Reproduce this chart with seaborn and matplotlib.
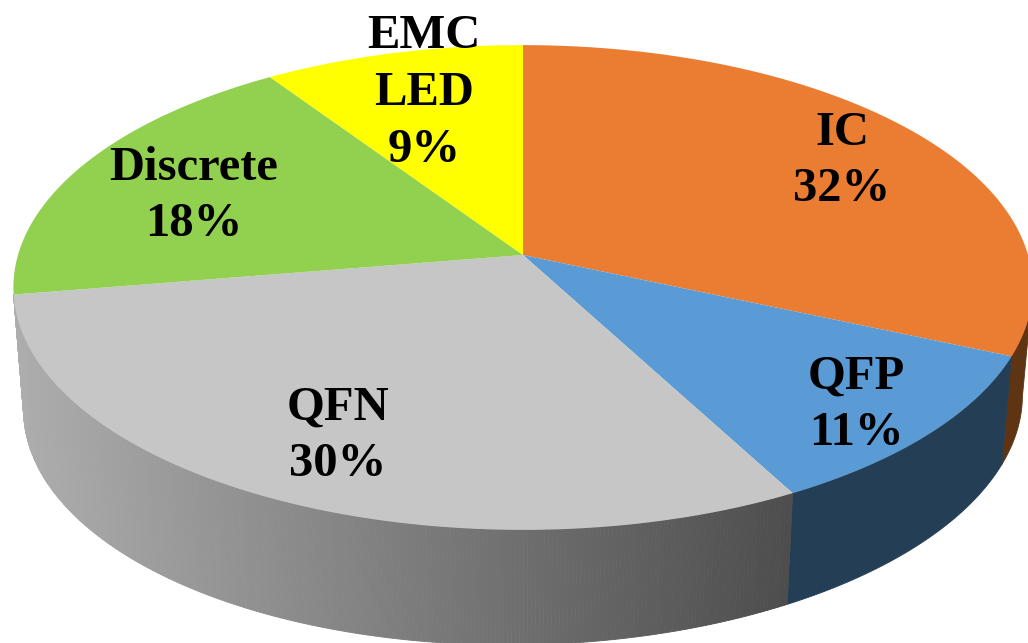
import numpy as np
import matplotlib
matplotlib.use("Agg")
import matplotlib.pyplot as plt
import seaborn as sns

categories = ["IC", "QFP", "QFN", "Discrete", "EMC\nLED"]
shares = [31.6, 10.6, 30.2, 18.2, 9.4]
top_colors = ["#EB7D32", "#5B9BD5", "#C6C6C6", "#92D050", "#FFFF00"]
side_colors = ["#5E3413", "#243F55"]
label_x = [842, 856, 338, 194, 424]
label_y = [161, 405, 436, 196, 93]

# perspective of the disc, in pixels of the picture
cx, cy = 523, 255
rx, ry = 505, 238
tilt = 0.134


def project(angle):
    # angle is clockwise from twelve o'clock, degrees
    a = np.radians(angle)
    u, v = np.sin(a), np.cos(a)
    d = 1 + tilt * v
    return cx + rx * u / d, cy - ry * v / d


def project_bottom(angle):
    x, y = project(angle)
    return cx + (x - cx) * 0.98, y + 115 - (x - cx) * 0.014


def wall(ax, a0, a1, color, zorder=1):
    angles = np.linspace(a0, a1, 60)
    xs, ys = project(angles)
    bx, by = project_bottom(angles[::-1])
    ax.fill(np.r_[xs, bx], np.r_[ys, by], color=color, lw=0.6, zorder=zorder)


sns.set_theme(style="white")
plt.rcParams["font.family"] = ["Liberation Serif", "DejaVu Serif"]

fig, ax = plt.subplots(figsize=(10.28, 6.43), dpi=100)
ax.set_position([0, 0, 1, 1])
ax.set_xlim(0, 1028)
ax.set_ylim(643, 0)
ax.axis("off")

edges = np.concatenate([[0], np.cumsum(shares)]) * 3.6

# side wall: two flat slices, then thin strips for the grey gradient
wall(ax, 98, edges[1], side_colors[0])
wall(ax, edges[1], edges[2], side_colors[1])

gradient = sns.blend_palette(["#ADADAD", "#4D4D4D"], 256)
steps = np.arange(edges[2], edges[3] + 0.4, 0.4)
for a0, a1 in zip(steps[:-1], steps[1:]):
    t = np.clip((project((a0 + a1) / 2)[0] - 15) / 775, 0, 1)
    wall(ax, a0, a1, gradient[int(t * 255)])

# top of the pie
for start, stop, color in zip(edges[:-1], edges[1:], top_colors):
    angles = np.linspace(start, stop, 200)
    xs, ys = project(angles)
    ax.fill(np.r_[cx, xs], np.r_[cy, ys], color=color, lw=0, zorder=2)

for name, share, x, y in zip(categories, shares, label_x, label_y):
    ax.text(x, y, f"{name}\n{round(share)}%", ha="center", va="center",
            fontsize=35, fontweight="bold", color="black", linespacing=1.37, zorder=3)

fig.savefig("out.png", dpi=100)
